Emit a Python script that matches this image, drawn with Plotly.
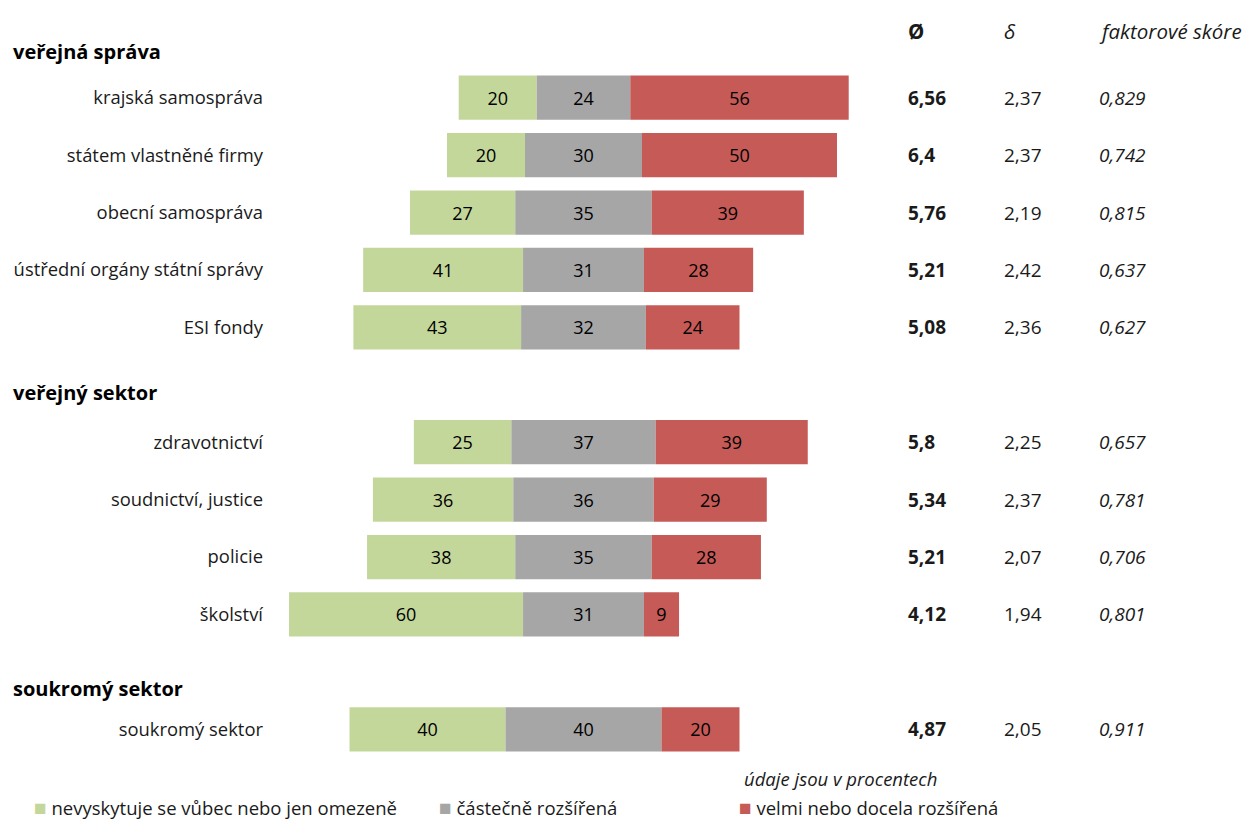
import plotly.graph_objects as go

# data
categories = ["krajská samospráva", "státem vlastněné firmy", "obecní samospráva",
              "ústřední orgány státní správy", "ESI fondy", "zdravotnictví",
              "soudnictví, justice", "policie", "školství", "soukromý sektor"]
groups = ["veřejná správa"] * 5 + ["veřejný sektor"] * 4 + ["soukromý sektor"]
low = [20, 20, 27, 41, 43, 25, 36, 38, 60, 40]
partial = [24, 30, 35, 31, 32, 37, 36, 35, 31, 40]
high = [56, 50, 39, 28, 24, 39, 29, 28, 9, 20]
mean = [6.56, 6.4, 5.76, 5.21, 5.08, 5.8, 5.34, 5.21, 4.12, 4.87]
sd = [2.37, 2.37, 2.19, 2.42, 2.36, 2.25, 2.37, 2.07, 1.94, 2.05]
factor = [0.829, 0.742, 0.815, 0.637, 0.627, 0.657, 0.781, 0.706, 0.801, 0.911]

series_names = ["nevyskytuje se vůbec nebo jen omezeně", "částečně rozšířená",
                "velmi nebo docela rozšířená"]
col_headers = ["Ø", "δ", "faktorové skóre"]

green = "#C4D79B"
grey = "#A6A6A6"
red = "#C55A57"
font = "Open Sans"
txt = "#1a1a1a"

W, H = 1252, 823
OFF = 8  # page body margin
X0, X1 = 270, 880      # plot area edges on screen
Y0, Y1 = 69.3, 757.7
NROWS = 12


def cz(v):
    return str(v).replace(".", ",")


def px_x(p):
    return (p - X0) / (X1 - X0)


def px_y(p):
    return (Y1 - p) / (Y1 - Y0)


def row_y(r):
    return 1 - (r + 0.5) / NROWS


# row positions: one empty row between groups
rows = []
pos = 0
for i, g in enumerate(groups):
    if i > 0 and g != groups[i - 1]:
        pos += 1
    rows.append(pos)
    pos += 1

# gray segment is centred on zero
base_low = [-(l + p / 2) for l, p in zip(low, partial)]
base_mid = [-p / 2 for p in partial]
base_high = [p / 2 for p in partial]

fig = go.Figure()
for vals, base, color, name in [
    (low, base_low, green, series_names[0]),
    (partial, base_mid, grey, series_names[1]),
    (high, base_high, red, series_names[2]),
]:
    fig.add_trace(go.Bar(
        y=rows, x=vals, base=base, orientation="h", name=name,
        marker=dict(color=color, line=dict(width=0)),
        width=0.77, text=vals, textposition="inside", insidetextanchor="middle",
        textfont=dict(color="#000", size=18, family=font), constraintext="none",
        hoverinfo="skip", showlegend=False,
    ))

ann = []
# group headers
header_off = {"veřejná správa": 0.8, "veřejný sektor": 0.86, "soukromý sektor": 0.71}
seen = []
for g, r in zip(groups, rows):
    if g not in seen:
        seen.append(g)
        ann.append(dict(x=px_x(11), xref="paper", y=row_y(r - header_off[g]), yref="paper",
                        text="<b>%s</b>" % g, showarrow=False, xanchor="left",
                        yanchor="middle",
                        font=dict(size=20, color="#000", family=font)))

# right-hand columns
col_x = [px_x(906), px_x(1002), px_x(1097)]
col_fmt = ["<b>%s</b>", "%s", "<i>%s</i>"]
hdr_fmt = ["<b>%s</b>", "<i>%s</i>", "<i>%s</i>"]
for cx, h, f in zip(col_x, col_headers, hdr_fmt):
    ann.append(dict(x=cx, xref="paper", y=px_y(31), yref="paper", text=f % h,
                    showarrow=False, xanchor="left", yanchor="middle",
                    font=dict(size=20.5, color=txt, family=font)))
for r, m, s, fs in zip(rows, mean, sd, factor):
    for cx, v, f in zip(col_x, [cz(m), cz(s), cz(fs)], col_fmt):
        ann.append(dict(x=cx, xref="paper", y=r, yref="y", text=f % v,
                        showarrow=False, xanchor="left", yanchor="middle",
                        font=dict(size=19, color=txt, family=font)))

ann.append(dict(x=px_x(939), xref="paper", y=px_y(778), yref="paper",
                text="<i>údaje jsou v procentech</i>", showarrow=False, xanchor="right",
                yanchor="middle", font=dict(size=18.5, color=txt, family=font)))

# legend drawn as text with coloured squares
for lx, color, name in zip([32, 437, 737], [green, grey, red], series_names):
    ann.append(dict(x=px_x(lx), xref="paper", y=px_y(807), yref="paper",
                    text='<span style="color:%s;font-size:21px">■</span> %s' % (color, name),
                    showarrow=False, xanchor="left", yanchor="middle",
                    font=dict(size=18.5, color=txt, family=font)))

fig.update_layout(
    width=W, height=H,
    paper_bgcolor="white", plot_bgcolor="white",
    margin=dict(l=X0 - OFF, r=W - (X1 - OFF), t=Y0 - OFF, b=H - (Y1 - OFF),
                autoexpand=False),
    barmode="overlay",
    showlegend=False,
    xaxis=dict(range=[-(583.5 - X0) / 3.9, (X1 - 583.5) / 3.9], visible=False,
               fixedrange=True),
    yaxis=dict(range=[NROWS - 0.5, -0.5], tickvals=rows, ticktext=categories,
               showgrid=False, zeroline=False, ticks="", showline=False,
               ticklabelstandoff=6,
               tickfont=dict(size=18.4, color=txt, family=font), fixedrange=True),
    annotations=ann,
    font=dict(family=font),
)

fig.write_html("out.html")
